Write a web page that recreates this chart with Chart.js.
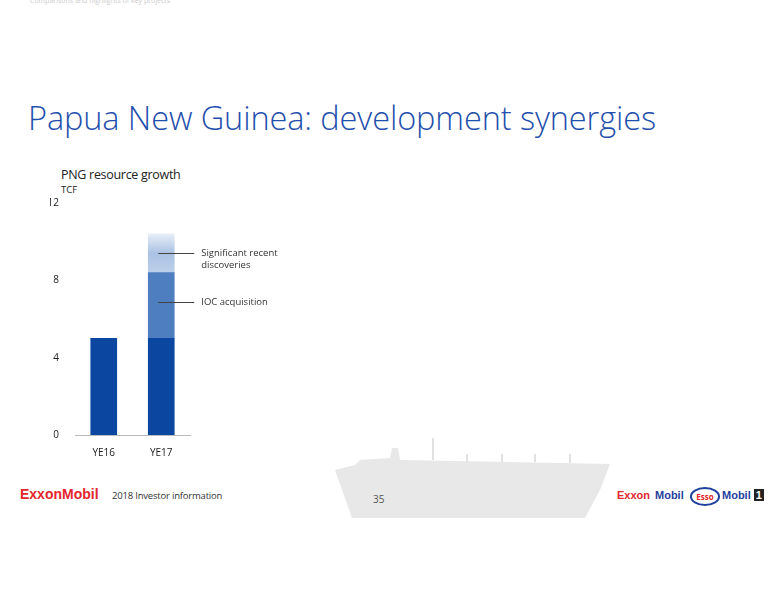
<!DOCTYPE html>
<html><head><meta charset="utf-8">
<script src="https://cdn.jsdelivr.net/npm/chart.js@4/dist/chart.umd.min.js"></script>
<style>
body{margin:0;width:776px;height:600px;position:relative;background:#fff;font-family:'Open Sans',sans-serif;overflow:hidden}
.t{position:absolute;white-space:nowrap}
#c{position:absolute;left:0;top:0}
</style></head><body>
<div class="t" style="left:30px;top:-4px;font-size:7px;color:#ccc">Comparisons and highlights of key projects</div>
<div class="t" style="left:28px;top:95px;font-size:32.5px;color:#1f4fad;font-weight:300;letter-spacing:-0.1px">Papua New Guinea: development synergies</div>
<div class="t" style="left:61px;top:166px;font-size:12.5px;color:#222;letter-spacing:-0.3px">PNG resource growth</div>
<div class="t" style="left:61px;top:183px;font-size:9.5px;color:#222">TCF</div>
<svg style="position:absolute;left:330px;top:430px" width="290" height="90">
<path d="M5 40 L25 35 L30 30 L60 28 L62 18 L68 18 L70 30 L280 34 L270 60 L255 88 L22 88 Z" fill="#e8e8e8"/>
<g stroke="#e2e2e2" stroke-width="2"><line x1="103" y1="30" x2="103" y2="8"/><line x1="137" y1="32" x2="137" y2="24"/><line x1="172" y1="32" x2="172" y2="24"/><line x1="205" y1="32" x2="205" y2="24"/><line x1="240" y1="33" x2="240" y2="24"/></g>
</svg>
<div class="t" style="left:20px;top:486px;font-size:14px;color:#e3262c;font-weight:bold;font-family:Arial,'Liberation Sans'">ExxonMobil</div>
<div class="t" style="left:112px;top:489px;font-size:9.5px;color:#333;letter-spacing:-0.2px">2018 Investor information</div>
<div class="t" style="left:373px;top:492px;font-size:10px;color:#555">35</div>
<div class="t" style="left:617px;top:489px;font-size:11px;color:#e3262c;font-weight:bold;font-family:Arial,'Liberation Sans'">Exxon</div>
<div class="t" style="left:655px;top:489px;font-size:11px;color:#1e3f9e;font-weight:bold;font-family:Arial,'Liberation Sans'">Mobil</div>
<div class="t" style="left:690px;top:487px;width:26px;height:15px;border:2px solid #1e3f9e;border-radius:50%;font-size:8px;color:#e3262c;font-weight:bold;text-align:center;line-height:15px">Esso</div>
<div class="t" style="left:722px;top:489px;font-size:11px;color:#1e3f9e;font-weight:bold;font-family:Arial,'Liberation Sans'">Mobil <span style="background:#222;color:#fff;padding:0 2px">1</span></div>
<canvas id="c" width="776" height="600"></canvas>
<script>
const categories=['YE16','YE17'];
const baseValues=[5.0,5.0];
const iocValues=[0,3.4];
const discValues=[0,2.0];
const yTicks=[0,4,8,12];
const notes=[{label:['Significant recent','discoveries'],value:9.4},{label:['IOC acquisition'],value:6.9}];

const notePlugin={id:'notes',afterDatasetsDraw(ch){
 const c=ch.ctx,y=ch.scales.y,x=ch.scales.x;const cx=x.getPixelForValue(1);
 c.save();c.strokeStyle='#444';c.lineWidth=1;c.fillStyle='#333';c.font='9.5px "Open Sans"';c.textBaseline='middle';
 notes.forEach(n=>{const py=Math.round(y.getPixelForValue(n.value))+0.5;c.beginPath();c.moveTo(cx-3,py);c.lineTo(cx+33,py);c.stroke();
  n.label.forEach((l,i)=>c.fillText(l,cx+40,py+i*12));});
 c.restore();}};

new Chart(document.getElementById('c'),{type:'bar',
 data:{labels:categories,datasets:[
  {data:baseValues,backgroundColor:'#0b47a1'},
  {data:iocValues,backgroundColor:'#4f7ec0'},
  {data:discValues,backgroundColor(ctx){const ch=ctx.chart;if(!ch.chartArea)return '#b7cbe6';const y=ch.scales.y;
    const g=ch.ctx.createLinearGradient(0,y.getPixelForValue(10.4),0,y.getPixelForValue(8.4));
    g.addColorStop(0,'#e6eef8');g.addColorStop(0.5,'#aac2e3');g.addColorStop(1,'#bdd0ea');return g;}}
 ]},
 options:{responsive:false,animation:false,events:[],
  layout:{padding:{left:50,top:203,right:586,bottom:135}},
  plugins:{legend:{display:false},tooltip:{enabled:false}},
  datasets:{bar:{barThickness:26}},
  scales:{
   x:{stacked:true,grid:{display:false},border:{color:'#bbb'},ticks:{color:'#222',font:{size:10,family:'Open Sans'},padding:4},afterFit(s){s.height=30;}},
   y:{stacked:true,min:0,max:12,grid:{display:false},border:{display:false},
      afterBuildTicks(s){s.ticks=yTicks.map(v=>({value:v}));},
      ticks:{color:'#222',font:{size:10,family:'Open Sans'},padding:8},afterFit(s){s.width=25;}}
  }},
 plugins:[notePlugin]});
</script>
</body></html>
